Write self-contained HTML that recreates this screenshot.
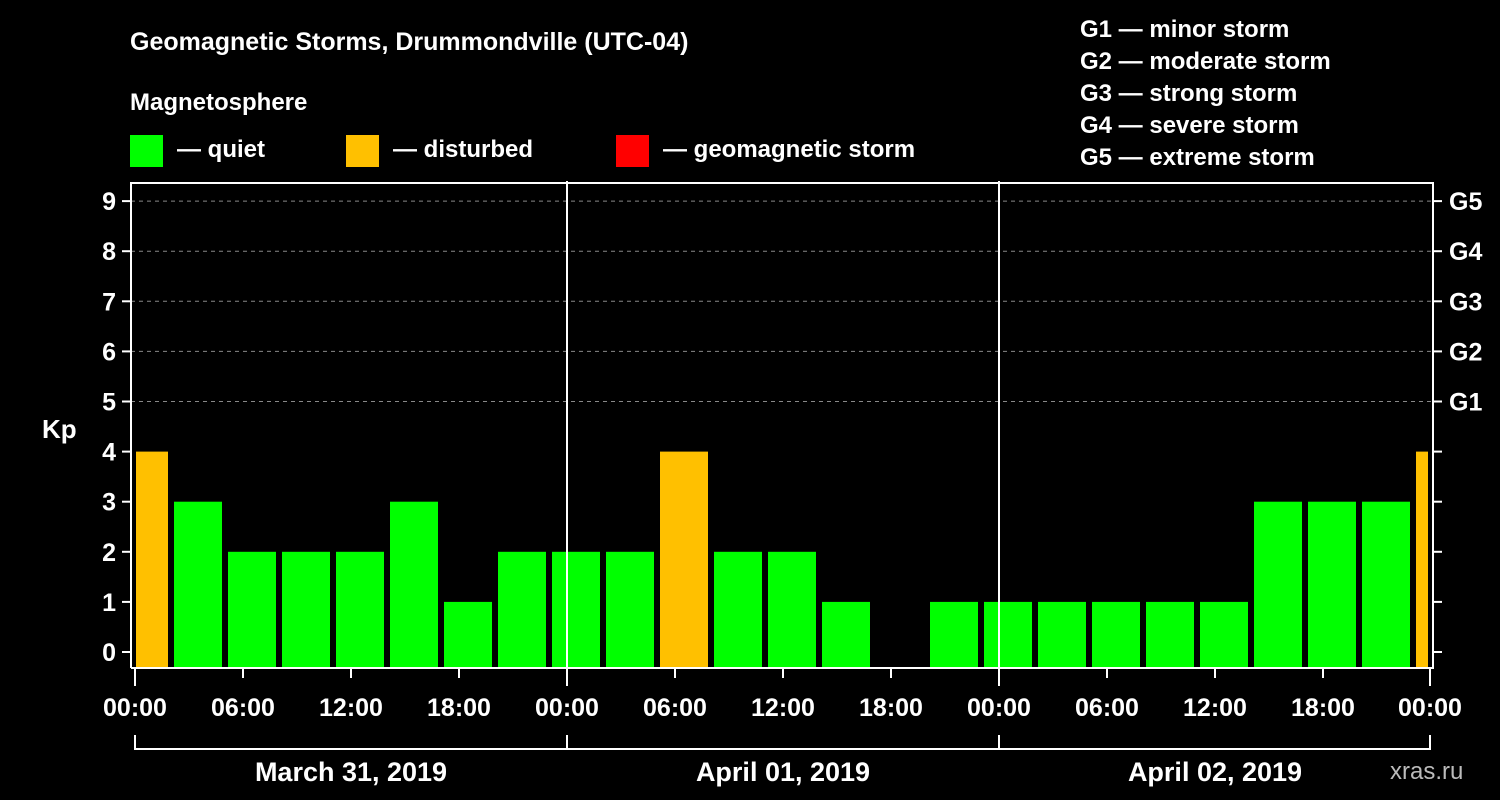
<!DOCTYPE html>
<html><head><meta charset="utf-8"><style>
html,body{margin:0;padding:0;background:#000;}
svg{display:block;font-family:"Liberation Sans",Arial,sans-serif;font-weight:bold;}
</style></head><body>
<svg id="chart" width="1500" height="800" viewBox="0 0 1500 800" xmlns="http://www.w3.org/2000/svg">
<rect width="1500" height="800" fill="#000"/>
<text x="130" y="50" fill="#fff" font-size="25">Geomagnetic Storms, Drummondville (UTC-04)</text>
<text x="130" y="110" fill="#fff" font-size="24">Magnetosphere</text>
<g><rect x="130" y="135" width="33" height="32" fill="#00ff00"/><text x="177" y="157" fill="#fff" font-size="24">— quiet</text></g>
<g><rect x="346" y="135" width="33" height="32" fill="#ffc000"/><text x="393" y="157" fill="#fff" font-size="24">— disturbed</text></g>
<g><rect x="616" y="135" width="33" height="32" fill="#ff0000"/><text x="663" y="157" fill="#fff" font-size="24">— geomagnetic storm</text></g>
<g fill="#fff" font-size="24">
<text x="1080" y="37">G1 — minor storm</text>
<text x="1080" y="69">G2 — moderate storm</text>
<text x="1080" y="101">G3 — strong storm</text>
<text x="1080" y="133">G4 — severe storm</text>
<text x="1080" y="165">G5 — extreme storm</text>
</g>
<text x="42" y="438" fill="#fff" font-size="26">Kp</text>
<text x="1390" y="779" fill="#bbb" font-size="24" font-weight="normal">xras.ru</text>
<g id="grid"></g>
<g id="bars"></g>
<g id="axes"></g>
</svg>
<script>
const kpValues = [4,3,2,2,2,3,1,2,2,2,4,2,2,1,0,1,1,1,1,1,1,3,3,3,4];
const yTicks = [0,1,2,3,4,5,6,7,8,9];
const gLabels = ["G1","G2","G3","G4","G5"];
const xTickLabels = ["00:00","06:00","12:00","18:00","00:00","06:00","12:00","18:00","00:00","06:00","12:00","18:00","00:00"];
const dayLabels = ["March 31, 2019","April 01, 2019","April 02, 2019"];

const NS = "http://www.w3.org/2000/svg";
const X0 = 135, PXH = 18, XEND = 1431, LEFT = 131, RIGHT = 1433, TOP = 183, BOTTOM = 668;
function xScale(h){ return X0 + h * PXH; }
function yScale(v){ return 652 - v * 50.1; }
function mk(parent, tag, attrs){ const e = document.createElementNS(NS, tag); for (const k in attrs) e.setAttribute(k, attrs[k]); document.getElementById(parent).appendChild(e); return e; }

// grid
for (let v = 5; v <= 9; v++) {
  const l = mk('grid','line',{x1:LEFT,x2:RIGHT,y1:yScale(v),y2:yScale(v),stroke:'#888','stroke-width':1,'stroke-dasharray':'4,4'});
  
  
}
// bars: 3-hour slots starting at -1h
kpValues.forEach((v, i) => {
  const h0 = -1 + 3 * i, h1 = h0 + 3;
  let x0 = xScale(h0) + 3, x1 = xScale(h1) - 3;
  x0 = Math.max(x0, LEFT + 5); x1 = Math.min(x1, RIGHT - 5);
  const y = yScale(v) , hgt = BOTTOM - 1 - y;
  const color = v >= 5 ? '#ff0000' : (v >= 4 ? '#ffc000' : '#00ff00');
  if (v > 0) {
    const r = mk('bars','rect',{x:x0,y:y,width:x1-x0,height:hgt,fill:color});
    
    
  }
});
// day separators
[24, 48].forEach(h => {
  const l = mk('axes','line',{x1:xScale(h),x2:xScale(h),y1:181,y2:BOTTOM,stroke:'#fff','stroke-width':2});
  
  
});
// frame
const fr = mk('axes','path',{d:`M${LEFT} ${BOTTOM} V${TOP} H${RIGHT} V${BOTTOM} H${LEFT}`,fill:'none',stroke:'#fff','stroke-width':2});


// y ticks
yTicks.forEach(v => {
  const y = yScale(v);
  mk('axes','line',{x1:122,x2:LEFT,y1:y,y2:y,stroke:'#fff','stroke-width':2});
  mk('axes','line',{x1:RIGHT,x2:1442,y1:y,y2:y,stroke:'#fff','stroke-width':2});
  const t = mk('axes','text',{x:116,y:y+9,fill:'#fff','font-size':25,'text-anchor':'end'});
  t.textContent = v;
  
  
});
gLabels.forEach((g, i) => {
  const t = mk('axes','text',{x:1449,y:yScale(5+i)+9,fill:'#fff','font-size':25});
  t.textContent = g;
  
  
});
// x ticks
xTickLabels.forEach((lab, i) => {
  const x = Math.min(xScale(i * 6), XEND - 1);
  const major = i % 4 === 0;
  mk('axes','line',{x1:x,x2:x,y1:BOTTOM,y2:major?686:678,stroke:'#fff','stroke-width':2});
  const t = mk('axes','text',{x:x,y:716,fill:'#fff','font-size':25,'text-anchor':'middle'});
  t.textContent = lab;
  
  
});
// day brackets
mk('axes','line',{x1:xScale(0),x2:XEND-1,y1:749,y2:749,stroke:'#fff','stroke-width':2});
[0,24,48,72].forEach(h => { const x = Math.min(xScale(h), XEND-1); mk('axes','line',{x1:x,x2:x,y1:735,y2:750,stroke:'#fff','stroke-width':2}); });
dayLabels.forEach((d, i) => {
  const t = mk('axes','text',{x:xScale(i*24+12),y:781,fill:'#fff','font-size':27,'text-anchor':'middle'});
  t.textContent = d;
  
  
});
</script>
</body></html>
